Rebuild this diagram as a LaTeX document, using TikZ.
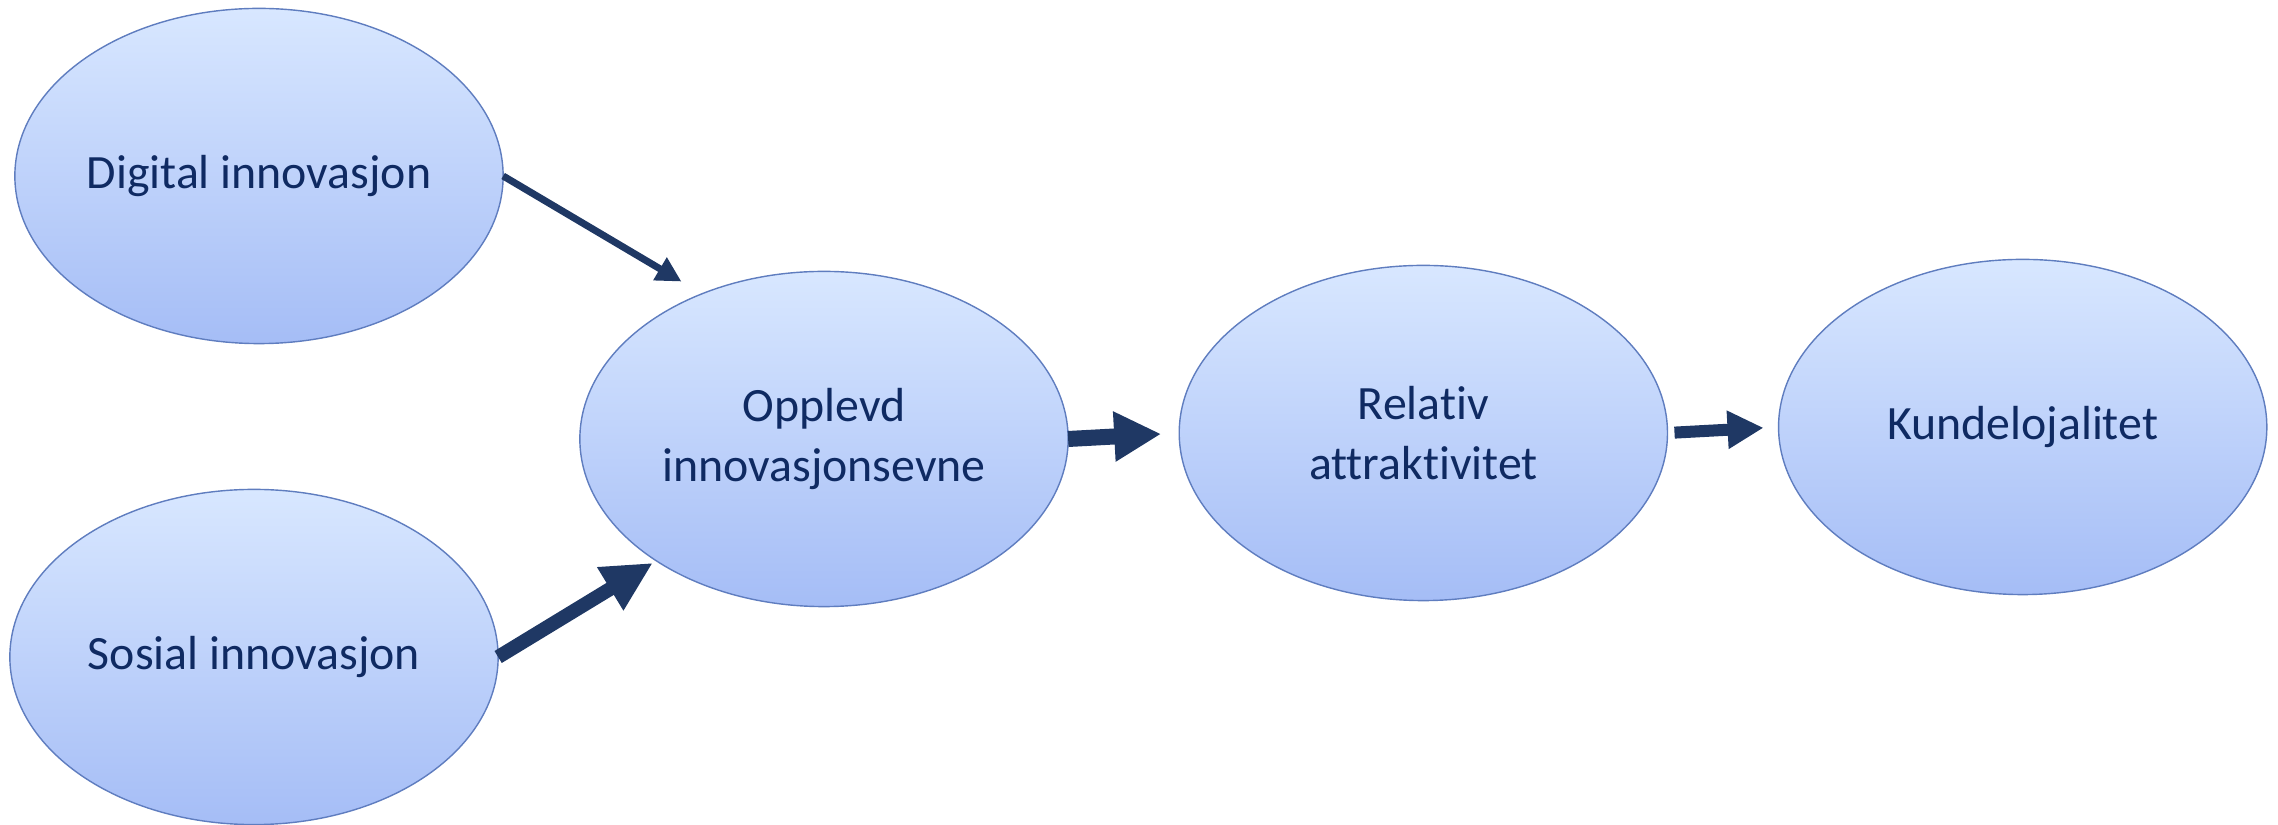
\documentclass[tikz,border=0pt]{standalone}
\usepackage{fontspec}
\setmainfont{Carlito}[Ligatures=NoCommon]
\usetikzlibrary{
        arrows.meta,
        positioning,
        shapes.geometric
    }
\definecolor{navy}{HTML}{1F3864}
\definecolor{txtblue}{HTML}{0F2A62}
\definecolor{topblue}{HTML}{D8E7FF}
\definecolor{botblue}{HTML}{A5BDF6}
\definecolor{rimblue}{HTML}{5F7DBF}
\tikzset{construct/.style={ellipse,draw=rimblue,line width=0.4pt,
        top color=topblue,bottom color=botblue,
        minimum width=4.88cm,minimum height=3.35cm,inner sep=0pt,outer sep=0pt,
        align=center,text=txtblue,font=\fontsize{13.6}{17}\selectfont}}
\tikzset{effect/.style={draw=navy,line cap=butt}}

\begin{document}
\begin{tikzpicture}[x=0.01cm,y=-0.01cm,node distance=5.99cm]
            \useasboundingbox (0,0) rectangle (2278,825);
            \node[construct] (dig) at (259,176) {Digital innovasjon};
            \node[construct] (sos) at (254,657) {Sosial innovasjon};
            \node[construct] (opp) at (824,439) {Opplevd\\innovasjonsevne};
            \node[construct] (rel) [right of=opp,yshift=0.06cm] {Relativ\\attraktivitet};
            \node[construct] (kun) [right of=rel,yshift=0.06cm] {Kundelojalitet};
            % block arrows between the constructs
            \draw[effect,line width=0.07cm,shorten >=0.24cm,
                -{Triangle[length=0.25cm,width=0.25cm]}] (dig.east) -- (opp.130);
            \draw[effect,line width=0.14cm,shorten >=0.04cm,
                -{Triangle[length=0.5cm,width=0.47cm]}] (sos.east) -- (opp.216);
            \draw[effect,line width=0.16cm,shorten >=0.18cm,
                -{Triangle[length=0.47cm,width=0.47cm]}] (opp.east) -- (rel.west);
            \draw[effect,line width=0.12cm,shorten <=0.07cm,shorten >=0.15cm,
                -{Triangle[length=0.36cm,width=0.36cm]}] (rel.east) -- (kun.west);
        \end{tikzpicture}
\end{document}
